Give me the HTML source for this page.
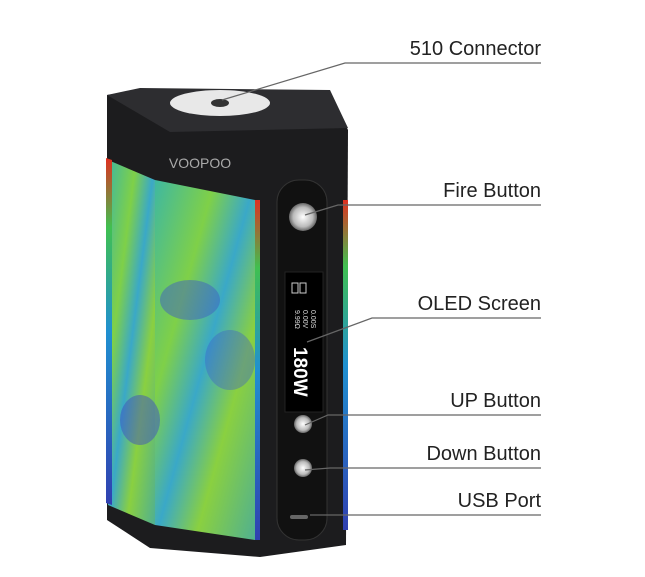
<!DOCTYPE html>
<html><head><style>
html,body{margin:0;padding:0;background:#fff;}
</style></head><body>
<svg width="645" height="577" xmlns="http://www.w3.org/2000/svg" style="display:block">
<defs>
<linearGradient id="skin" x1="0" y1="0" x2="1" y2="1">
<stop offset="0" stop-color="#3fb8a0"/><stop offset="0.3" stop-color="#7fd048"/><stop offset="0.5" stop-color="#3aa8c8"/><stop offset="0.7" stop-color="#8ad040"/><stop offset="1" stop-color="#50b090"/>
</linearGradient>
<linearGradient id="rain" x1="0" y1="0" x2="0" y2="1">
<stop offset="0" stop-color="#e03020"/><stop offset="0.2" stop-color="#40c050"/><stop offset="0.5" stop-color="#2090d0"/><stop offset="1" stop-color="#3040b0"/>
</linearGradient>
<radialGradient id="btn"><stop offset="0" stop-color="#fff"/><stop offset="0.7" stop-color="#bbb"/><stop offset="1" stop-color="#666"/></radialGradient>
</defs>
<polygon points="107,95 140,90 330,92 348,130 346,545 260,557 150,548 107,520" fill="#1c1c1e"/>
<polygon points="107,95 140,88 330,90 348,128 170,132" fill="#2d2d30"/>
<ellipse cx="220" cy="103" rx="50" ry="13" fill="#e8e8e8"/>
<ellipse cx="220" cy="103" rx="9" ry="4" fill="#333"/>
<polygon points="108,160 155,180 155,525 108,505" fill="url(#skin)"/>
<polygon points="106,158 112,160 112,505 106,503" fill="url(#rain)"/>
<polygon points="155,180 255,200 255,540 155,525" fill="url(#skin)"/>
<ellipse cx="190" cy="300" rx="30" ry="20" fill="#3f60c0" opacity="0.5"/>
<ellipse cx="140" cy="420" rx="20" ry="25" fill="#3f50c0" opacity="0.5"/>
<ellipse cx="230" cy="360" rx="25" ry="30" fill="#3f60c8" opacity="0.4"/>
<polygon points="255,200 260,200 260,540 255,540" fill="url(#rain)"/>
<rect x="343" y="200" width="5" height="330" fill="url(#rain)"/>
<text x="200" y="168" font-family="Liberation Sans,sans-serif" font-size="14" fill="#aaa" text-anchor="middle">VOOPOO</text>
<rect x="277" y="180" width="50" height="360" rx="22" fill="#111" stroke="#333"/>
<circle cx="303" cy="217" r="14" fill="url(#btn)"/>
<rect x="285" y="272" width="38" height="140" fill="#000" stroke="#222"/>
<rect x="292" y="283" width="6" height="10" fill="none" stroke="#ccc"/>
<rect x="300" y="283" width="6" height="10" fill="none" stroke="#ccc"/>
<text transform="translate(295,310) rotate(90)" font-family="Liberation Sans,sans-serif" font-size="7" fill="#ddd">9.99Ω</text>
<text transform="translate(303,310) rotate(90)" font-family="Liberation Sans,sans-serif" font-size="7" fill="#ddd">0.00V</text>
<text transform="translate(311,310) rotate(90)" font-family="Liberation Sans,sans-serif" font-size="7" fill="#ddd">0.00S</text>
<text transform="translate(294,347) rotate(90)" font-family="Liberation Sans,sans-serif" font-size="19" font-weight="bold" fill="#fff">180W</text>
<circle cx="303" cy="424" r="9" fill="url(#btn)"/>
<circle cx="303" cy="468" r="9" fill="url(#btn)"/>
<rect x="290" y="515" width="18" height="4" rx="2" fill="#666"/>
<g stroke="#666" stroke-width="1.2" fill="none">
<polyline points="222,100 345,63 541,63"/>
<polyline points="305,215 338,205 541,205"/>
<polyline points="307,342 372,318 541,318"/>
<polyline points="305,425 328,415 541,415"/>
<polyline points="305,470 330,468 541,468"/>
<polyline points="310,515 328,515 541,515"/>
</g>
<g font-family="Liberation Sans,sans-serif" font-size="20" fill="#222" text-anchor="end">
<text x="541" y="55">510 Connector</text>
<text x="541" y="197">Fire Button</text>
<text x="541" y="310">OLED Screen</text>
<text x="541" y="407">UP Button</text>
<text x="541" y="460">Down Button</text>
<text x="541" y="507">USB Port</text>
</g>
</svg>
</body></html>
